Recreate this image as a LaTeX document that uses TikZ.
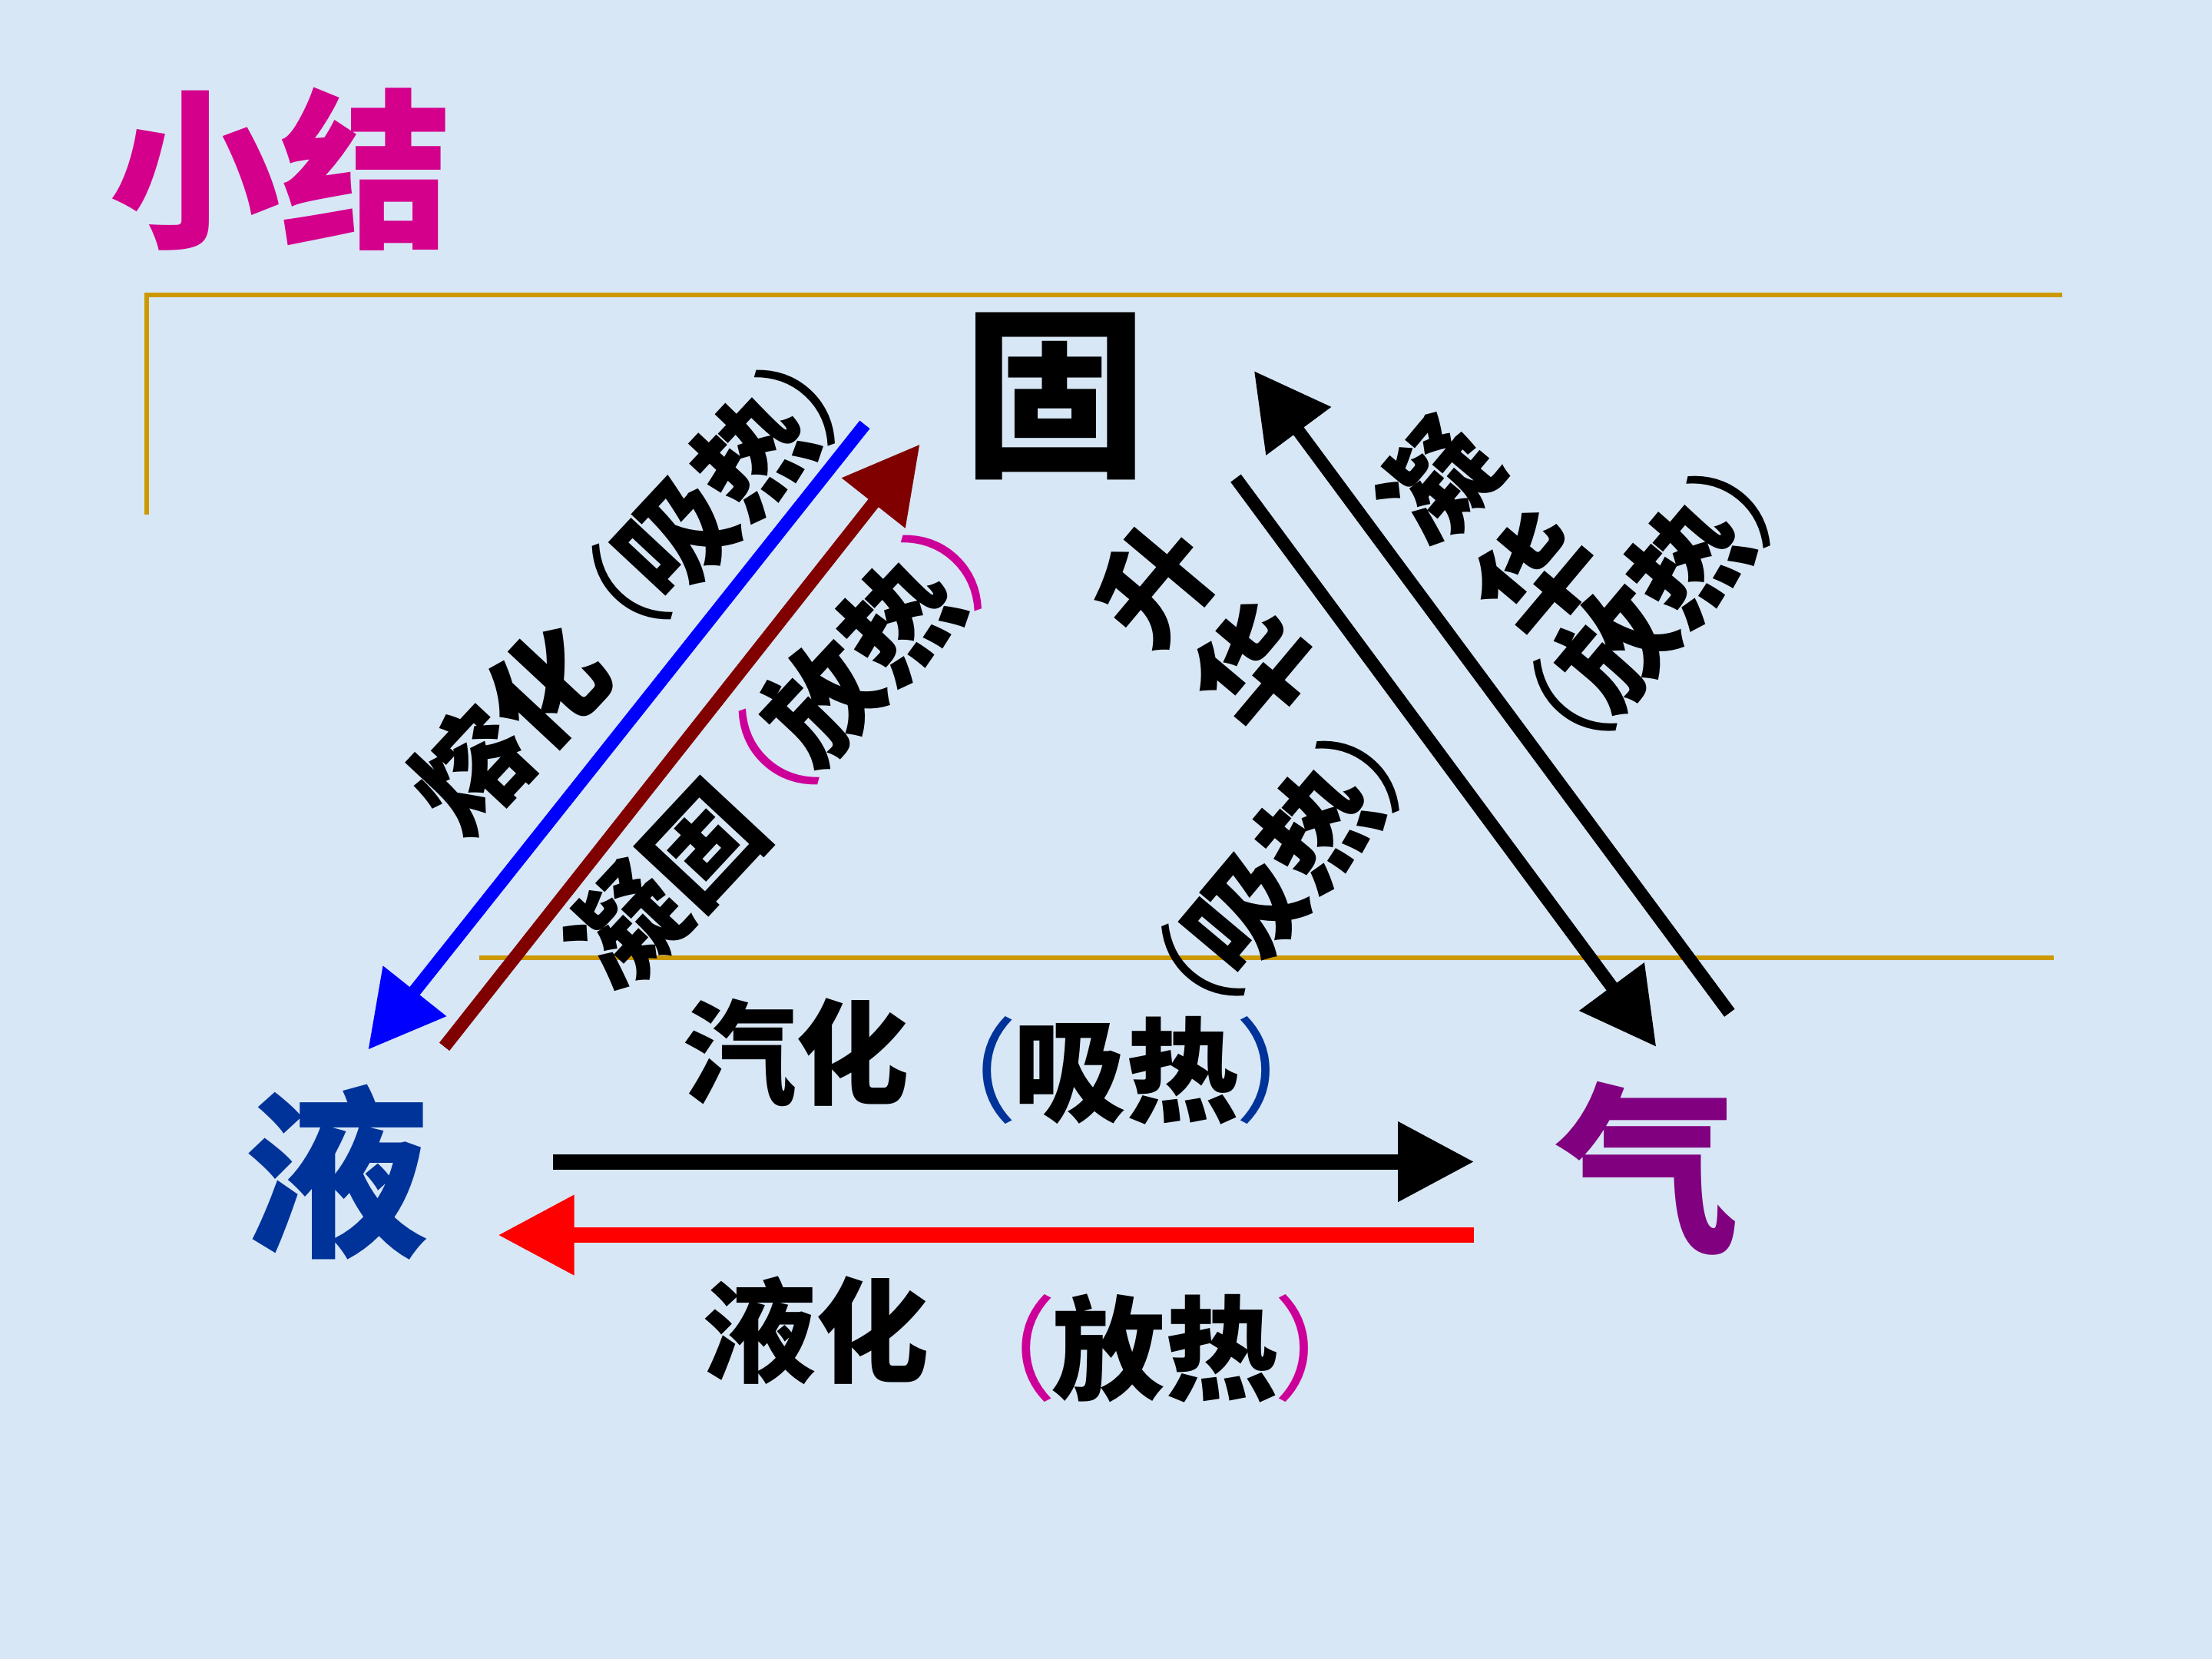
\documentclass[tikz,border=0pt]{standalone}
\usepackage{fontspec}
\newfontfamily\cjk{Noto Sans CJK SC}
\usetikzlibrary{arrows.meta}
\definecolor{bgblue}{RGB}{216,231,246}
\definecolor{gold}{RGB}{204,153,0}
\definecolor{titlemag}{RGB}{212,0,140}
\definecolor{parmag}{RGB}{204,0,153}
\definecolor{liqblue}{RGB}{0,51,153}
\definecolor{gaspur}{RGB}{128,0,128}
\definecolor{solred}{RGB}{128,0,0}
\definecolor{bluearr}{RGB}{0,0,255}
\definecolor{redarr}{RGB}{255,0,0}
\newcommand\mylp[1]{{\mdseries\color{#1}（}\kern-.04em}
\newcommand\myrp[1]{\kern-.04em{\mdseries\color{#1}）}}
\begin{document}
\begin{tikzpicture}[x=0.01cm,y=-0.01cm,
  every node/.style={inner sep=0pt, outer sep=0pt},
  bigchar/.style={font=\cjk\bfseries\fontsize{37pt}{40pt}\selectfont},
  titletxt/.style={font=\cjk\bfseries\fontsize{34.5pt}{40pt}\selectfont, text=titlemag},
  lab/.style={font=\cjk\bfseries\fontsize{22.8pt}{26pt}\selectfont, text=black},
  frameline/.style={draw=gold, line width=1pt},
  harrow/.style={line width=3.1pt, -{Triangle[length=0.54cm,width=0.54cm]}},
  darrow/.style={line width=2.6pt, -{Triangle[length=0.53cm,width=0.55cm]}},
]
\fill[bgblue] (0,0) rectangle (1568,1176);
\useasboundingbox (0,0) rectangle (1568,1176);

% frame lines
\draw[frameline] (104,365) -- (104,209) -- (1462,209);
\draw[frameline] (340,679) -- (1456,679);

% title
\node[titletxt] (title) at (199,120) {小结};

% states
\node[bigchar, text=black] (gu) at (748,281) {固};
\node[bigchar, text=liqblue] (ye) at (239,831) {液};
\node[bigchar, text=gaspur] (qi) at (1168,828) {气};

% arrow end points
\coordinate (rhA) at (613,301);
\coordinate (rhB) at (261,744);
\coordinate (ngA) at (315,742);
\coordinate (ngB) at (652,315);
\coordinate (shA) at (876,339);
\coordinate (shB) at (1174,742);
\coordinate (nhA) at (1226,718);
\coordinate (nhB) at (889,263);
\coordinate (qhA) at (392,823.5);
\coordinate (qhB) at (1045,823.5);
\coordinate (yhA) at (1045,875.5);
\coordinate (yhB) at (353,875.5);

\draw[darrow, draw=bluearr, -{Triangle[length=0.53cm,width=0.55cm, fill=bluearr]}] (rhA) -- (rhB);
\draw[darrow, draw=solred, -{Triangle[length=0.53cm,width=0.55cm, fill=solred]}] (ngA) -- (ngB);
\draw[darrow, draw=black] (shA) -- (shB);
\draw[darrow, draw=black] (nhA) -- (nhB);
\draw[harrow, draw=black] (qhA) -- (qhB);
\draw[harrow, draw=redarr, -{Triangle[length=0.54cm,width=0.54cm, fill=redarr]}] (yhA) -- (yhB);

% horizontal labels
\node[lab] (qh) at (564.5,746) {汽化};
\node[lab] (qhr) at (798.5,759) {\mylp{liqblue}吸热\myrp{liqblue}};
\node[lab] (yh) at (578.5,943) {液化};
\node[lab] (yhr) at (826,956) {\mylp{parmag}放热\myrp{parmag}};

% left diagonal labels
\node[lab, rotate=47] (rh) at (360,516) {熔化};
\node[lab, rotate=47] (rhr) at (506,351) {\mylp{black}吸热\myrp{black}};
\node[lab, rotate=47] (ng) at (471,628) {凝固};
\node[lab, rotate=47] (ngr) at (610,468) {\mylp{parmag}放热\myrp{parmag}};

% right diagonal labels
\node[lab, rotate=50] (sh1) at (819,414) {升};
\node[lab, rotate=50] (sh2) at (889,472) {华};
\node[lab, rotate=50] (shr) at (908,616) {\mylp{black}吸热\myrp{black}};
\node[lab, rotate=50] (nh1) at (1019,342) {凝};
\node[lab, rotate=50] (nh2) at (1088,407) {华};
\node[lab, rotate=50] (nhr) at (1171,428) {\mylp{black}放热\myrp{black}};
\end{tikzpicture}
\end{document}
